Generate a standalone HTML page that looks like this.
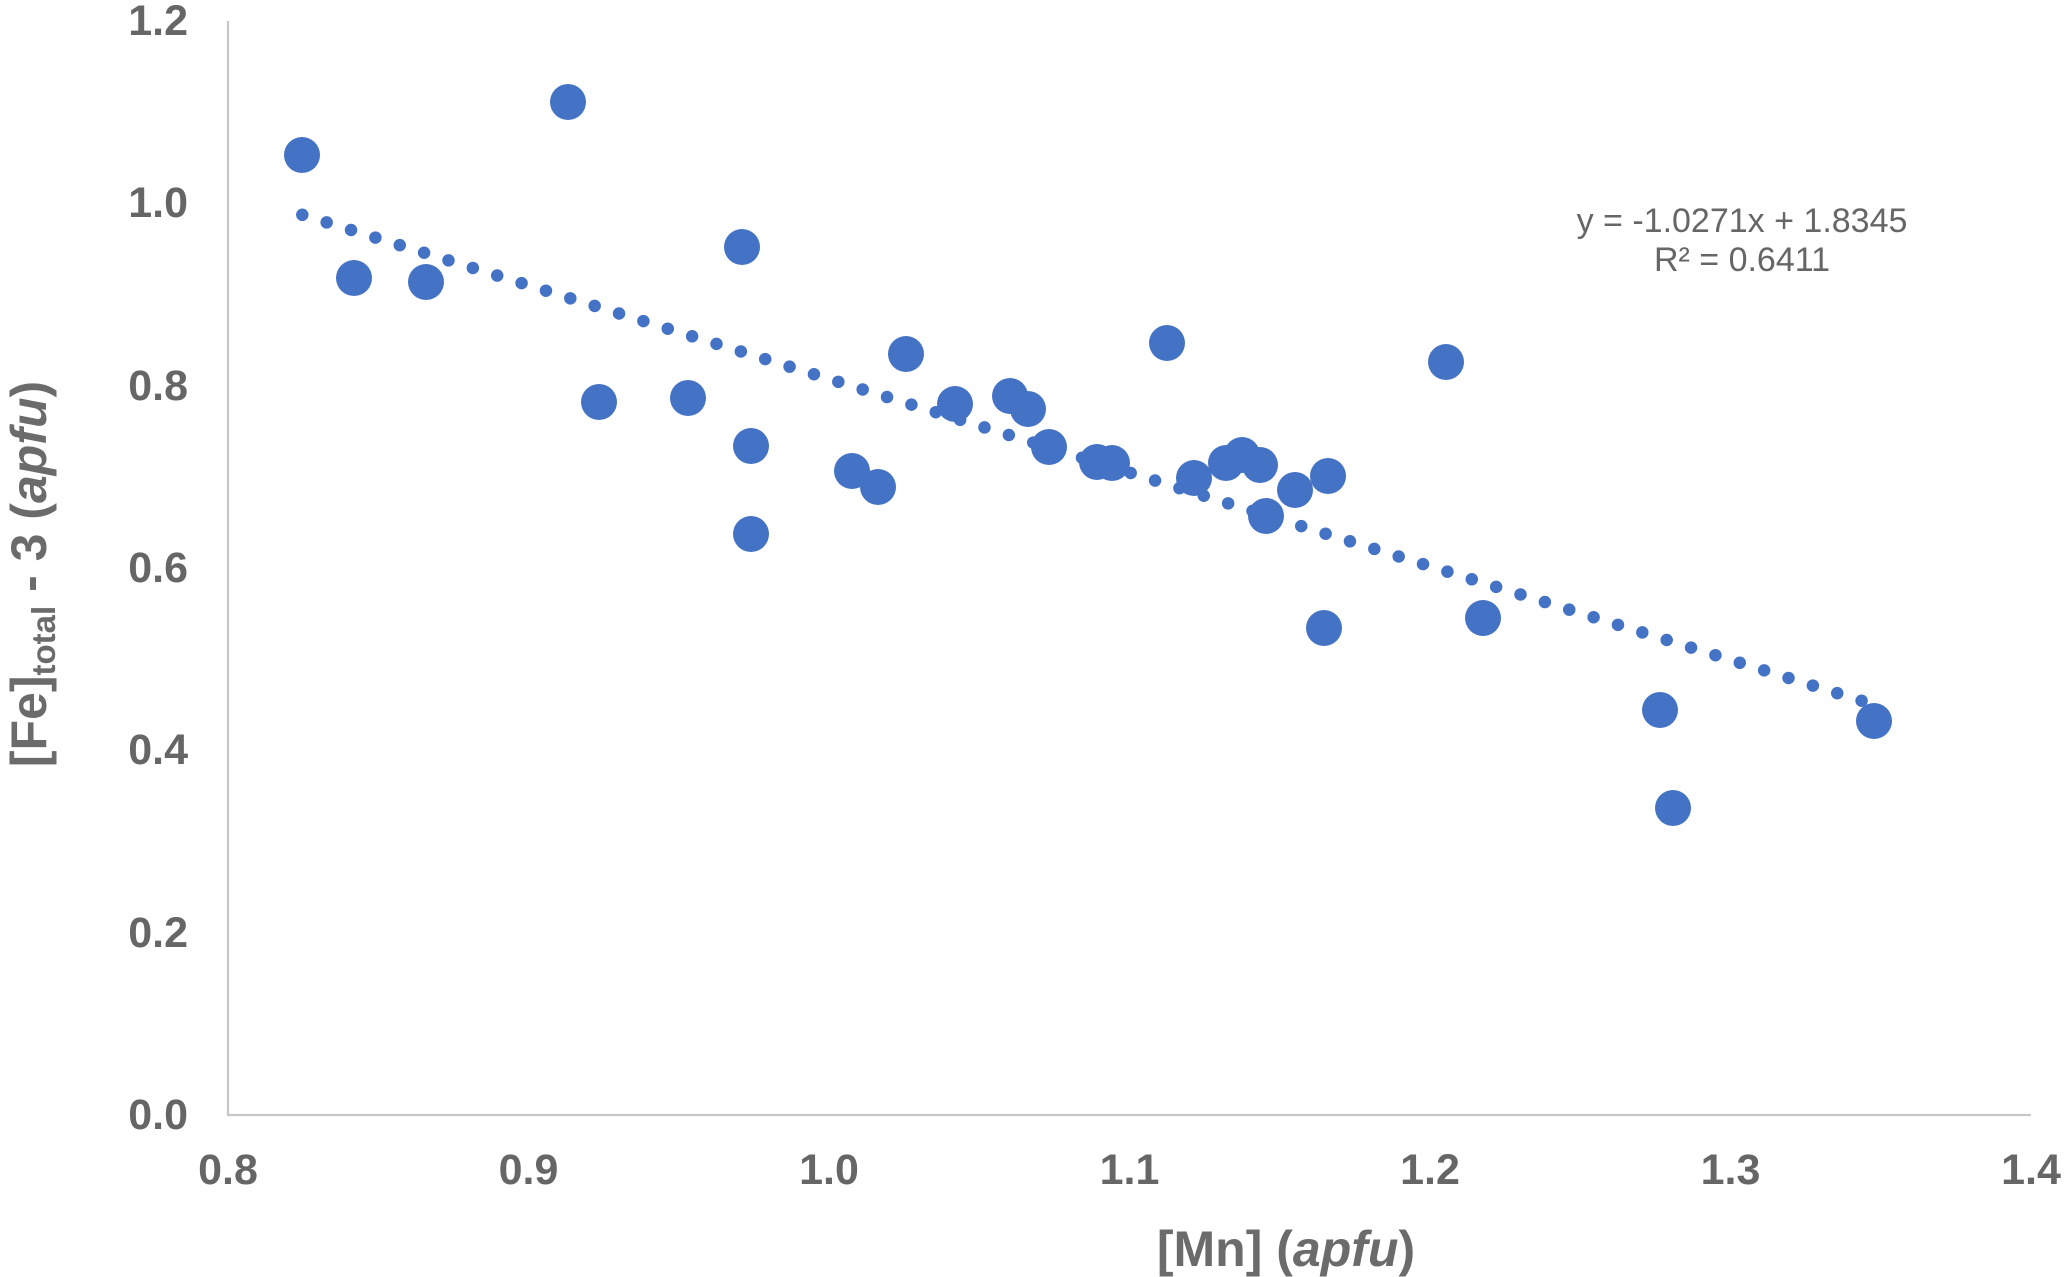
<!DOCTYPE html>
<html>
<head>
<meta charset="utf-8">
<style>
  html, body { margin: 0; padding: 0; background: #ffffff; }
  svg { display: block; }
  .tick { font-family: "Liberation Sans", Arial, sans-serif; font-weight: bold; font-size: 43px; fill: #666666; }
  .title { font-family: "Liberation Sans", Arial, sans-serif; font-weight: bold; font-size: 50px; fill: #6b6b6b; }
  .eq { font-family: "Liberation Sans", Arial, sans-serif; font-size: 34px; fill: #666666; }
</style>
</head>
<body>
<svg width="2067" height="1277" viewBox="0 0 2067 1277" xmlns="http://www.w3.org/2000/svg">
  <rect x="0" y="0" width="2067" height="1277" fill="#ffffff"/>

  <!-- axes -->
  <line x1="228" y1="21" x2="228" y2="1115" stroke="#c6c6c6" stroke-width="2.2"/>
  <line x1="227" y1="1115" x2="2031" y2="1115" stroke="#c6c6c6" stroke-width="2.2"/>

  <!-- y tick labels -->
  <g class="tick" text-anchor="end">
    <text x="188" y="1129">0.0</text>
    <text x="188" y="947">0.2</text>
    <text x="188" y="764">0.4</text>
    <text x="188" y="582">0.6</text>
    <text x="188" y="400">0.8</text>
    <text x="188" y="217">1.0</text>
    <text x="188" y="35">1.2</text>
  </g>

  <!-- x tick labels -->
  <g class="tick" text-anchor="middle">
    <text x="228" y="1184">0.8</text>
    <text x="528.5" y="1184">0.9</text>
    <text x="829" y="1184">1.0</text>
    <text x="1129.5" y="1184">1.1</text>
    <text x="1430" y="1184">1.2</text>
    <text x="1730.5" y="1184">1.3</text>
    <text x="2031" y="1184">1.4</text>
  </g>

  <!-- axis titles -->
  <text class="title" x="1286" y="1266" text-anchor="middle">[Mn] (<tspan font-style="italic">apfu</tspan>)</text>
  <text class="title" transform="translate(46,574) rotate(-90)" text-anchor="middle">[Fe]<tspan font-size="33" dy="9">total</tspan><tspan dy="-9"> - 3 (</tspan><tspan font-style="italic">apfu</tspan>)</text>

  <!-- trendline -->
  <line x1="302.3" y1="214.8" x2="1872" y2="704" stroke="#4472C4" stroke-width="12.5" stroke-linecap="round" stroke-dasharray="0 25.52"/>

  <!-- data points -->
  <g fill="#4472C4">
    <circle cx="302" cy="155" r="18"/>
    <circle cx="354" cy="278" r="18"/>
    <circle cx="426" cy="282" r="18"/>
    <circle cx="568" cy="102" r="18"/>
    <circle cx="599" cy="402" r="18"/>
    <circle cx="688" cy="398" r="18"/>
    <circle cx="742" cy="247" r="18"/>
    <circle cx="751" cy="446" r="18"/>
    <circle cx="751" cy="534" r="18"/>
    <circle cx="852" cy="471" r="18"/>
    <circle cx="878" cy="487" r="18"/>
    <circle cx="906" cy="354" r="18"/>
    <circle cx="955" cy="404" r="18"/>
    <circle cx="1010" cy="396" r="18"/>
    <circle cx="1028" cy="409" r="18"/>
    <circle cx="1049" cy="447" r="18"/>
    <circle cx="1097" cy="462" r="18"/>
    <circle cx="1112" cy="463" r="18"/>
    <circle cx="1167" cy="343" r="18"/>
    <circle cx="1194" cy="478" r="18"/>
    <circle cx="1226" cy="463" r="18"/>
    <circle cx="1242" cy="455" r="18"/>
    <circle cx="1260" cy="465" r="18"/>
    <circle cx="1266" cy="516" r="18"/>
    <circle cx="1295" cy="490" r="18"/>
    <circle cx="1328" cy="476" r="18"/>
    <circle cx="1324" cy="628" r="18"/>
    <circle cx="1446" cy="362" r="18"/>
    <circle cx="1483" cy="618" r="18"/>
    <circle cx="1660" cy="710" r="18"/>
    <circle cx="1673" cy="808" r="18"/>
    <circle cx="1874" cy="721" r="18"/>
  </g>

  <!-- equation -->
  <g class="eq" text-anchor="middle">
    <text x="1742" y="232">y = -1.0271x + 1.8345</text>
    <text x="1742" y="271">R² = 0.6411</text>
  </g>
</svg>
</body>
</html>
